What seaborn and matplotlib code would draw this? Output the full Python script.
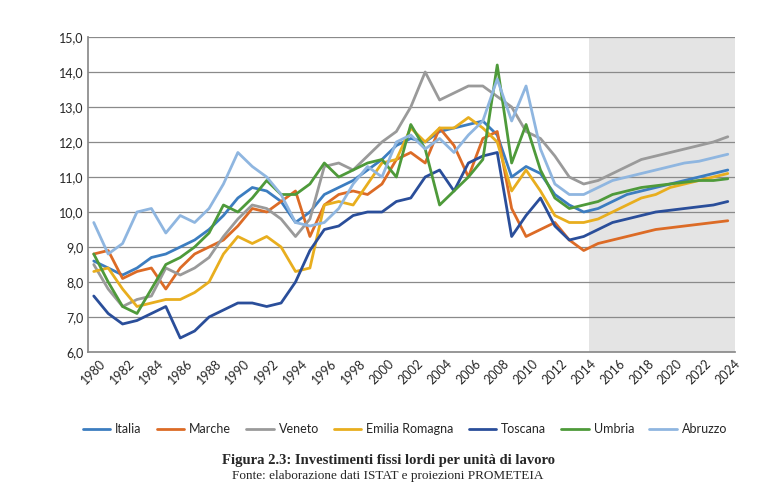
import matplotlib
matplotlib.use("Agg")
import matplotlib.pyplot as plt
import seaborn as sns
import pandas as pd
import numpy as np

years = list(range(1980, 2025))
italia = [8.6,8.4,8.2,8.4,8.7,8.8,9.0,9.2,9.5,9.9,10.4,10.7,10.6,10.3,9.7,10.0,10.5,10.7,10.9,11.2,11.5,11.9,12.1,12.0,12.3,12.4,12.5,12.6,12.2,11.0,11.3,11.1,10.5,10.2,10.0,10.1,10.3,10.5,10.6,10.7,10.8,10.9,11.0,11.1,11.2]
marche = [8.8,8.9,8.1,8.3,8.4,7.8,8.4,8.8,9.0,9.2,9.6,10.1,10.0,10.3,10.6,9.3,10.2,10.5,10.6,10.5,10.8,11.5,11.7,11.4,12.4,11.9,11.0,12.1,12.3,10.1,9.3,9.5,9.7,9.2,8.9,9.1,9.2,9.3,9.4,9.5,9.55,9.6,9.65,9.7,9.75]
veneto = [8.5,7.8,7.3,7.5,7.6,8.4,8.2,8.4,8.7,9.3,9.8,10.2,10.1,9.8,9.3,9.8,11.3,11.4,11.2,11.6,12.0,12.3,13.0,14.0,13.2,13.4,13.6,13.6,13.3,13.0,12.3,12.1,11.6,11.0,10.8,10.9,11.1,11.3,11.5,11.6,11.7,11.8,11.9,12.0,12.15]
emilia = [8.3,8.4,7.8,7.3,7.4,7.5,7.5,7.7,8.0,8.8,9.3,9.1,9.3,9.0,8.3,8.4,10.2,10.3,10.2,10.8,11.4,11.5,12.4,12.0,12.4,12.4,12.7,12.4,12.0,10.6,11.2,10.6,9.9,9.7,9.7,9.8,10.0,10.2,10.4,10.5,10.7,10.8,10.9,11.0,11.1]
toscana = [7.6,7.1,6.8,6.9,7.1,7.3,6.4,6.6,7.0,7.2,7.4,7.4,7.3,7.4,8.0,8.9,9.5,9.6,9.9,10.0,10.0,10.3,10.4,11.0,11.2,10.6,11.4,11.6,11.7,9.3,9.9,10.4,9.6,9.2,9.3,9.5,9.7,9.8,9.9,10.0,10.05,10.1,10.15,10.2,10.3]
umbria = [8.8,8.0,7.3,7.1,7.8,8.5,8.7,9.0,9.4,10.2,10.0,10.4,10.9,10.5,10.5,10.8,11.4,11.0,11.2,11.4,11.5,11.0,12.5,11.8,10.2,10.6,11.0,11.5,14.2,11.4,12.5,11.2,10.4,10.1,10.2,10.3,10.5,10.6,10.7,10.75,10.8,10.85,10.9,10.9,10.95]
abruzzo = [9.7,8.8,9.1,10.0,10.1,9.4,9.9,9.7,10.1,10.8,11.7,11.3,11.0,10.5,9.7,9.6,9.7,10.1,10.8,11.3,11.0,12.0,12.2,11.8,12.1,11.7,12.2,12.6,13.8,12.6,13.6,11.8,10.8,10.5,10.5,10.7,10.9,11.0,11.1,11.2,11.3,11.4,11.45,11.55,11.65]

names = ["Italia","Marche","Veneto","Emilia Romagna","Toscana","Umbria","Abruzzo"]
series = [italia, marche, veneto, emilia, toscana, umbria, abruzzo]
colors = ["#3C7DC0","#DC6B26","#9A9A9A","#E8AE1E","#2A4E9A","#4E9A3A","#8FB6E0"]

df = pd.DataFrame({"Anno": years * len(names),
                   "Regione": [n for n in names for _ in years],
                   "Valore": [v for s in series for v in s]})

sns.set_theme(style="white")
plt.rcParams['font.family'] = ['Lato', 'DejaVu Sans']
fig = plt.figure(figsize=(7.76, 4.86), dpi=100)
ax = fig.add_axes([88/776, 1-352/486, (735-88)/776, (352-37)/486])
ax.axvspan(2014.4, 2024.5, color="#E4E4E4", zorder=0, lw=0)
for y in np.arange(7, 15.01, 1):
    ax.axhline(y, color="#8A8A8A", lw=0.9, zorder=1)
sns.lineplot(data=df, x="Anno", y="Valore", hue="Regione", palette=colors,
             hue_order=names, lw=2, ax=ax, zorder=3, legend=True)
ax.set_xlim(1980 - 0.4, 2024.5)
ax.set_ylim(6, 15)
ax.set_yticks(np.arange(6, 15.01, 1))
ax.set_yticklabels([f"{v:.1f}".replace(".", ",") for v in np.arange(6, 15.01, 1)], fontsize=9)
ax.set_xticks(list(range(1980, 2025, 2)))
ax.set_xticklabels([str(y) for y in range(1980, 2025, 2)], rotation=45, fontsize=9)
ax.set_xlabel(""); ax.set_ylabel("")
for s in ["top", "right"]:
    ax.spines[s].set_visible(False)
ax.spines["left"].set_color("#8A8A8A")
ax.spines["bottom"].set_color("#8A8A8A")
ax.tick_params(axis="x", length=3, color="#8A8A8A", pad=1)
ax.tick_params(axis="y", length=0)
h, l = ax.get_legend_handles_labels()
ax.legend(h, l, loc="upper center", bbox_to_anchor=(0.49, -0.19), ncol=7, frameon=False,
          fontsize=9, handlelength=2.2, columnspacing=1.2, handletextpad=0.4)
fig.text(0.5, 1-460/486, "Figura 2.3: Investimenti fissi lordi per unità di lavoro",
         ha="center", va="center", fontsize=10.5, weight="bold", family="Liberation Serif")
fig.text(0.5, 1-476/486, "Fonte: elaborazione dati ISTAT e proiezioni PROMETEIA",
         ha="center", va="center", fontsize=9.5, family="Liberation Serif")
fig.savefig("out.png", dpi=100)
